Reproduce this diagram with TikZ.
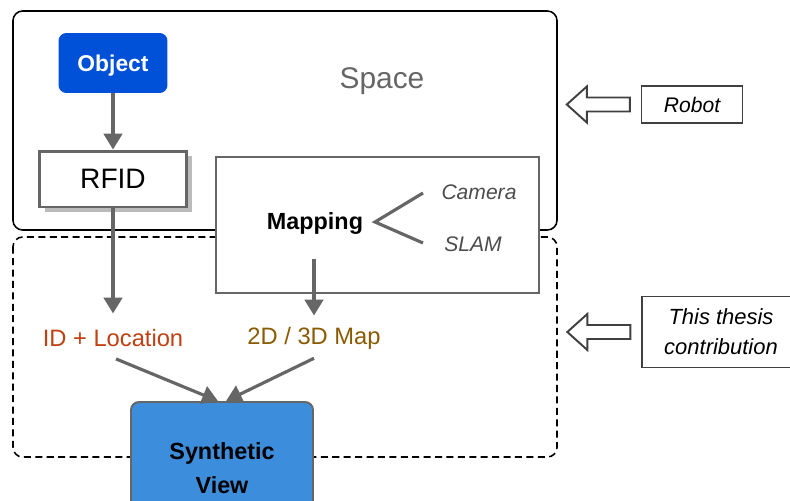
\documentclass[tikz,border=0pt]{standalone}
\usepackage{fontspec}
\setmainfont{Liberation Sans}
\usetikzlibrary{arrows.meta,calc,positioning}
\definecolor{objblue}{HTML}{0050D8}
\definecolor{synblue}{HTML}{3C8EDC}
\definecolor{linegray}{HTML}{666666}
\definecolor{shadowgray}{HTML}{BBBBBB}
\definecolor{idred}{HTML}{BF4010}
\definecolor{mapbrown}{HTML}{8A5A00}

\tikzset{
  flow/.style={draw=linegray, line width=1.8pt, -{Triangle[length=9pt,width=10.5pt]}},
  hollow/.style={draw=black!75, line width=1.1pt, fill=white},
  sidebox/.style={draw=black!75, line width=0.8pt, fill=white, font=\itshape\fontsize{12}{15}\selectfont, align=center},
}

\begin{document}
\begin{tikzpicture}[x=0.02cm, y=-0.02cm]
    \useasboundingbox (0,0) rectangle (790,500);
    % Space and contribution regions
    \draw[line width=0.9pt, rounded corners=5.5pt] (13,11) rectangle (557,230);
    \draw[line width=0.9pt, dash pattern=on 4pt off 2.5pt, rounded corners=5.5pt] (13,237) rectangle (557,457);
    \node[text=linegray, font=\fontsize{17}{20}\selectfont] (space) at (382,81) {Space};
    % Object and RFID
    \node[fill=objblue, rounded corners=4.5pt, minimum width=2.18cm, minimum height=1.2cm,
          text height=9.5pt, text depth=0pt,
          text=white, font=\bfseries\fontsize{13}{16}\selectfont] (object) at (113,63) {Object};
    \fill[shadowgray] (45,156) rectangle (192,212);
    \node[draw=linegray, line width=1.7pt, fill=white, minimum width=2.94cm, minimum height=1.12cm,
          font=\fontsize{16}{19}\selectfont] (rfid) at (113,179) {RFID};
    \draw[flow] (object) -- (rfid);
    % Mapping
    \node[draw=linegray, line width=1.1pt, fill=white, minimum width=6.46cm, minimum height=2.72cm] (mapbox) at (377.5,225) {};
    \node[font=\bfseries\fontsize{13.3}{16}\selectfont] (mapping) at (315,224) {Mapping};
    \node[text=black!70, font=\itshape\fontsize{12}{14}\selectfont] (camera) at (479,192) {Camera};
    \node[text=black!70, font=\itshape\fontsize{12}{14}\selectfont] (slam) at (473,244) {SLAM};
    \coordinate (fork) at (375,222);
    \coordinate (camend) at (423,193);
    \coordinate (slamend) at (423,243);
    \draw[linegray, line width=1.8pt] (camend) -- (fork) -- (slamend);
    % Outputs
    \node[text=idred, font=\fontsize{13.5}{16}\selectfont] (idloc) at (113,338) {ID + Location};
    \node[text=mapbrown, font=\fontsize{13.5}{16}\selectfont] (map3d) at (314,338) {2D / 3D Map};
    \draw[flow, shorten >=5.5pt] (rfid) -- (idloc.north);
    \draw[flow, shorten >=3pt] ($(mapping.south -| map3d.north)+(0,18)$) -- (map3d.north);
    % Synthetic view
    \node[draw=linegray, line width=1.1pt, fill=synblue, rounded corners=4.5pt, minimum width=3.64cm,
          minimum height=2.64cm, align=center, font=\bfseries\fontsize{13.3}{19}\selectfont] (synth) at (222,468) {Synthetic\\View};
    \draw[flow] ($(idloc.south)+(3,6)$) -- ([xshift=-0.08cm]synth.north);
    \draw[flow] ($(map3d.south)+(0,3)$) -- ([xshift=0.08cm]synth.north);
    % Side notes
    \node[sidebox, minimum width=2.02cm, minimum height=0.74cm] (robot) at (692,104.5) {Robot};
    \node[sidebox, minimum width=3.16cm, minimum height=1.42cm, font=\itshape\fontsize{12.5}{17}\selectfont] (thesis) at (721,332) {This thesis\\contribution};
    \coordinate (rtip) at ($(robot.west)+(-74,0)$);
    \coordinate (ttip) at ($(thesis.west)+(-74,0)$);
    \draw[hollow] (rtip) -- ++(20,-18) -- ++(0,11) -- ++(43,0) -- ++(0,14) -- ++(-43,0) -- ++(0,11) -- cycle;
    \draw[hollow] (ttip) -- ++(20,-18) -- ++(0,11) -- ++(43,0) -- ++(0,14) -- ++(-43,0) -- ++(0,11) -- cycle;
\end{tikzpicture}
\end{document}
